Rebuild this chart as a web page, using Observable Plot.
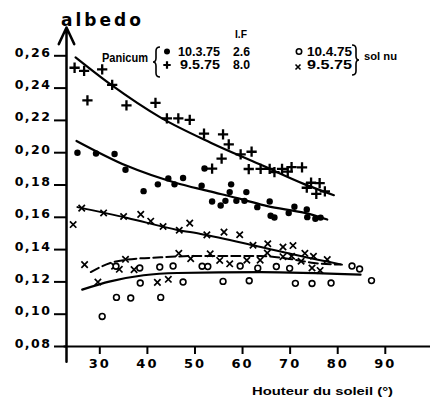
<!DOCTYPE html>
<html><head><meta charset="utf-8">
<script src="https://cdn.jsdelivr.net/npm/d3@7"></script>
<script src="https://cdn.jsdelivr.net/npm/@observablehq/plot@0.6"></script>
<style>body{margin:0;background:#fff} svg{display:block}</style>
</head><body><div id="chart"></div>
<script>
// Axis ticks
const yTicks = [0.08, 0.10, 0.12, 0.14, 0.16, 0.18, 0.20, 0.22, 0.24, 0.26];
const xTicks = [30, 40, 50, 60, 70, 80, 90];

// Panicum 10.3.75 (LAI 2.6) – filled dots [sun height °, albedo]
const panicum1003 = [[25.3,0.200],[29.2,0.1995],[33.1,0.1992],[35.4,0.1894],[39.2,0.1762],[42.2,0.1804],[44.4,0.1841],[45.7,0.1804],[47.5,0.1843],[51.4,0.1796],[52.0,0.1902],[53.6,0.1698],[55.4,0.1673],[56.4,0.1702],[57.6,0.1804],[57.3,0.1756],[58.7,0.1702],[60.4,0.1702],[60.8,0.1756],[63.1,0.1663],[65.7,0.1698],[65.9,0.161],[66.7,0.1599],[69.7,0.1627],[70.9,0.1665],[73.5,0.1649],[73.6,0.1601],[75.3,0.1591],[76.4,0.1598]];
// Panicum 9.5.75 (LAI 8.0) – plus
const panicum0905 = [[24.7,0.2526],[26.7,0.2507],[30.5,0.2516],[32.6,0.242],[27.4,0.2324],[35.6,0.2293],[41.7,0.2308],[44.1,0.2213],[46.5,0.2212],[48.9,0.2203],[51.9,0.2118],[55.9,0.2114],[57.1,0.2052],[59.6,0.199],[61.9,0.2006],[55.6,0.1963],[53.6,0.1902],[61.3,0.1899],[63.8,0.19],[65.7,0.19],[66.7,0.188],[68.3,0.19],[69.5,0.1883],[70.3,0.1911],[72.5,0.1909],[74.4,0.1814],[76.2,0.1812],[73.5,0.1783],[75.5,0.1745],[77.3,0.176]];
// x series (upper line)
const crossUpper = [[24.4,0.1555],[26.2,0.1657],[30.8,0.1627],[35.0,0.1605],[38.6,0.1618],[40.7,0.1576],[43.3,0.1543],[46.7,0.152],[48.9,0.1564],[52.5,0.1491],[56.1,0.1508],[59.4,0.1492],[62.2,0.1427],[65.3,0.1436],[68.5,0.1416],[70.6,0.1425],[73.1,0.1377],[74.9,0.1359],[77.8,0.1338]];
// sol nu 9.5.75 – x (lower group, dashed line)
const solNu0905 = [[26.8,0.1307],[33.1,0.1297],[34.1,0.1278],[35.4,0.134],[37.2,0.1276],[46.6,0.1377],[49.1,0.1344],[53.2,0.1374],[55.2,0.1333],[57.3,0.1312],[60.9,0.1334],[63.7,0.1335],[65.2,0.1379],[68.5,0.1356],[70.3,0.1359],[72.3,0.1328],[74.6,0.1286],[76.3,0.1271],[29.6,0.1199],[42.1,0.1197],[44.4,0.1216]];
// sol nu 10.4.75 – open circles
const solNu1004 = [[30.5,0.0986],[33.5,0.1104],[36.5,0.110],[42.8,0.1104],[38.5,0.1193],[47.5,0.1199],[33.4,0.1297],[38.4,0.1286],[42.6,0.1292],[45.4,0.1298],[51.5,0.1297],[52.7,0.1295],[55.9,0.1203],[59.5,0.1298],[61.4,0.1207],[63.2,0.1285],[67.1,0.1295],[69.9,0.1284],[71.1,0.1191],[74.6,0.119],[78.6,0.1193],[83.0,0.1298],[84.6,0.128],[87.1,0.1208]];

// Fitted curves
const curve0905 = [[24.9,0.259],[32.2,0.2424],[42.8,0.2217],[53.3,0.2062],[63.6,0.1928],[73.1,0.1804],[79.2,0.1737]];
const curve1003 = [[25.1,0.2073],[35.8,0.1917],[45.9,0.1814],[52.9,0.1762],[59.9,0.1711],[65.2,0.1669],[73.1,0.1627],[77.8,0.1586]];
const curveUpper = [[25.3,0.1663],[35.8,0.1596],[46.3,0.1522],[51.2,0.1497],[63.1,0.1421],[72.2,0.136],[80.9,0.1307]];
const curveDashed = [[28.1,0.1261],[32.2,0.1317],[35.8,0.1338],[42.8,0.1352],[49.8,0.1360],[63.8,0.1360],[70.8,0.1338],[75.0,0.1317],[80.6,0.1307]];
const curveSolNu = [[26.3,0.1152],[32.2,0.1203],[39.2,0.1241],[46.3,0.1255],[63.8,0.1261],[84.8,0.1245]];

const X = d => d[0], Y = d => d[1];
const svg = Plot.plot({
  width: 430, height: 397,
  marginLeft: 66, marginRight: 0, marginTop: 23, marginBottom: 51,
  x: {domain: [23, 99.5]},
  y: {domain: [0.08, 0.28]},
  style: {fontFamily: "DejaVu Sans", fontWeight: "bold", background: "white", color: "black", overflow: "visible"},
  marks: [
    Plot.axisY({ticks: yTicks, tickSize: 12, tickPadding: 3, tickFormat: d => d.toFixed(2).replace(".", ","), fontSize: 12.5, strokeWidth: 2, label: null}),
    Plot.axisX({ticks: xTicks, tickSize: 8, tickPadding: 4, fontSize: 13, strokeWidth: 2, label: null}),
    Plot.ruleY([0.08], {x1: 22.5, x2: 99.5, strokeWidth: 2}),
    Plot.arrow([0], {x1: 23, x2: 23, y1: 0.0705, y2: 0.2775, strokeWidth: 2.5, headLength: 11, headAngle: 50}),
    Plot.line(curve0905, {x: X, y: Y, curve: "monotone-x", strokeWidth: 2.2}),
    Plot.line(curve1003, {x: X, y: Y, curve: "monotone-x", strokeWidth: 2.2}),
    Plot.line(curveUpper, {x: X, y: Y, curve: "monotone-x", strokeWidth: 2}),
    Plot.line(curveDashed, {x: X, y: Y, curve: "monotone-x", strokeWidth: 2, strokeDasharray: "9,4"}),
    Plot.line(curveSolNu, {x: X, y: Y, curve: "monotone-x", strokeWidth: 2.2}),
    Plot.dot(panicum1003, {x: X, y: Y, r: 3.2, fill: "black", stroke: "none"}),
    Plot.dot(panicum0905, {x: X, y: Y, symbol: "plus", r: 3.4, stroke: "black", strokeWidth: 2.3}),
    Plot.dot(crossUpper, {x: X, y: Y, symbol: "times", r: 3, stroke: "black", strokeWidth: 1.7}),
    Plot.dot(solNu0905, {x: X, y: Y, symbol: "times", r: 3, stroke: "black", strokeWidth: 1.7}),
    Plot.dot(solNu1004, {x: X, y: Y, r: 2.9, fill: "white", stroke: "black", strokeWidth: 1.6})
  ]
});

const s = d3.select(svg);
s.selectAll('g[aria-label="y-axis tick label"] text').style("letter-spacing", "1.5px");
s.selectAll('g[aria-label="y-axis tick label"]').attr("transform", function() {
  return (this.getAttribute("transform") || "") + " translate(0,-3)";
});
s.selectAll('g[aria-label="x-axis tick label"] text').style("letter-spacing", "2px");

const g = s.append("g").attr("fill", "black").attr("font-weight", "bold").attr("text-anchor", "start");
function txt(x, y, str, size, family, len) {
  const t = g.append("text").attr("x", x).attr("y", y).attr("font-size", size)
    .attr("font-family", family).attr("text-anchor", "start").text(str);
  if (len) t.attr("textLength", len).attr("lengthAdjust", "spacingAndGlyphs");
  return t;
}
const LS = "Liberation Sans";
txt(61, 26, "albedo", 17, "DejaVu Sans").style("letter-spacing", "3px");
txt(235, 38, "I.F", 10, LS, 12);
txt(102, 62, "Panicum", 12, LS, 46);
txt(178, 55.5, "10.3.75", 12, LS, 42);
txt(233, 55.5, "2.6", 12, LS, 17);
txt(180, 69, "9.5.75", 12, LS, 40);
txt(233, 69, "8.0", 12, LS, 17);
txt(307, 55.5, "10.4.75", 12, LS, 45);
txt(307, 69, "9.5.75", 12, LS, 45);
txt(364, 60, "sol nu", 11, LS, 33);
txt(252, 395, "Houteur du soleil (°)", 11, LS, 141);

// legend symbols and braces
g.append("circle").attr("cx", 167).attr("cy", 51.5).attr("r", 3);
g.append("path").attr("d", "M163.3,65H170.7M167,61.3V68.7").attr("stroke", "black").attr("stroke-width", 2.2).attr("fill", "none");
g.append("circle").attr("cx", 299).attr("cy", 51.5).attr("r", 2.7).attr("fill", "white").attr("stroke", "black").attr("stroke-width", 1.6);
g.append("path").attr("d", "M295.5,64.5L300.5,69.5M300.5,64.5L295.5,69.5").attr("stroke", "black").attr("stroke-width", 1.6).attr("fill", "none");
g.append("path").attr("d", "M160,47Q156,47 156,51L156,58Q156,62 153,62Q156,62 156,66L156,73Q156,77 160,77")
  .attr("stroke", "black").attr("stroke-width", 1.6).attr("fill", "none");
g.append("path").attr("d", "M352,45Q356,45 356,49L356,56Q356,60 359,60Q356,60 356,64L356,71Q356,75 352,75")
  .attr("stroke", "black").attr("stroke-width", 1.6).attr("fill", "none");

document.getElementById("chart").appendChild(svg);
</script>
</body></html>
